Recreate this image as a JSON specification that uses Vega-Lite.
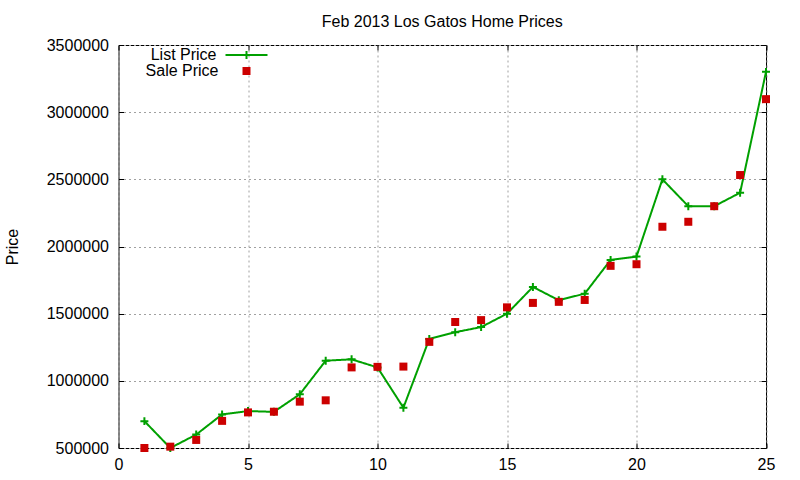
{
  "$schema": "https://vega.github.io/schema/vega-lite/v6.json",
  "autosize": {"type": "none"},
  "padding": {"left": 118.5, "top": 45, "right": 34, "bottom": 32},
  "width": 647.5,
  "height": 403,
  "background": "white",
  "title": {
    "text": "Feb 2013 Los Gatos Home Prices",
    "font": "Liberation Sans",
    "fontSize": 16,
    "fontWeight": "normal",
    "color": "black",
    "offset": 7
  },
  "config": {
    "view": {"stroke": "black", "strokeWidth": 1},
    "axis": {
      "labelFont": "Liberation Sans",
      "labelFontSize": 16,
      "labelColor": "black",
      "labelFlush": false,
      "labelOverlap": false,
      "titleFont": "Liberation Sans",
      "titleFontSize": 16,
      "titleFontWeight": "normal",
      "titleColor": "black",
      "domain": false,
      "tickColor": "black",
      "tickWidth": 1,
      "tickSize": -5,
      "gridColor": "#a0a0a0",
      "gridDash": [2, 3],
      "gridWidth": 1
    },
    "legend": {
      "orient": "none",
      "title": null,
      "labelFont": "Liberation Sans",
      "labelFontSize": 16,
      "labelColor": "black",
      "labelAlign": "right",
      "labelLimit": 0,
      "rowPadding": 0,
      "symbolOpacity": 1
    }
  },
  "data": {
    "values": [
      {"x": 1, "series": "List Price", "price": 700000},
      {"x": 2, "series": "List Price", "price": 500000},
      {"x": 3, "series": "List Price", "price": 600000},
      {"x": 4, "series": "List Price", "price": 750000},
      {"x": 5, "series": "List Price", "price": 775000},
      {"x": 6, "series": "List Price", "price": 769000},
      {"x": 7, "series": "List Price", "price": 900000},
      {"x": 8, "series": "List Price", "price": 1150000},
      {"x": 9, "series": "List Price", "price": 1160000},
      {"x": 10, "series": "List Price", "price": 1100000},
      {"x": 11, "series": "List Price", "price": 800000},
      {"x": 12, "series": "List Price", "price": 1312000},
      {"x": 13, "series": "List Price", "price": 1362000},
      {"x": 14, "series": "List Price", "price": 1400000},
      {"x": 15, "series": "List Price", "price": 1500000},
      {"x": 16, "series": "List Price", "price": 1699000},
      {"x": 17, "series": "List Price", "price": 1600000},
      {"x": 18, "series": "List Price", "price": 1649000},
      {"x": 19, "series": "List Price", "price": 1900000},
      {"x": 20, "series": "List Price", "price": 1925000},
      {"x": 21, "series": "List Price", "price": 2500000},
      {"x": 22, "series": "List Price", "price": 2300000},
      {"x": 23, "series": "List Price", "price": 2300000},
      {"x": 24, "series": "List Price", "price": 2400000},
      {"x": 25, "series": "List Price", "price": 3300000},
      {"x": 1, "series": "Sale Price", "price": 500000},
      {"x": 2, "series": "Sale Price", "price": 510000},
      {"x": 3, "series": "Sale Price", "price": 560000},
      {"x": 4, "series": "Sale Price", "price": 702000},
      {"x": 5, "series": "Sale Price", "price": 765000},
      {"x": 6, "series": "Sale Price", "price": 770000},
      {"x": 7, "series": "Sale Price", "price": 845000},
      {"x": 8, "series": "Sale Price", "price": 855000},
      {"x": 9, "series": "Sale Price", "price": 1100000},
      {"x": 10, "series": "Sale Price", "price": 1104000},
      {"x": 11, "series": "Sale Price", "price": 1106000},
      {"x": 12, "series": "Sale Price", "price": 1290000},
      {"x": 13, "series": "Sale Price", "price": 1438000},
      {"x": 14, "series": "Sale Price", "price": 1452000},
      {"x": 15, "series": "Sale Price", "price": 1547000},
      {"x": 16, "series": "Sale Price", "price": 1580000},
      {"x": 17, "series": "Sale Price", "price": 1588000},
      {"x": 18, "series": "Sale Price", "price": 1602000},
      {"x": 19, "series": "Sale Price", "price": 1856000},
      {"x": 20, "series": "Sale Price", "price": 1868000},
      {"x": 21, "series": "Sale Price", "price": 2147000},
      {"x": 22, "series": "Sale Price", "price": 2184000},
      {"x": 23, "series": "Sale Price", "price": 2300000},
      {"x": 24, "series": "Sale Price", "price": 2532000},
      {"x": 25, "series": "Sale Price", "price": 3097000}
    ]
  },
  "layer": [
    {
      "transform": [{"filter": "datum.series === 'List Price'"}],
      "mark": {"type": "line", "color": "#00a000", "strokeWidth": 2},
      "encoding": {
        "x": {
          "field": "x",
          "type": "quantitative",
          "scale": {"domain": [0, 25], "nice": false, "zero": false},
          "axis": {"values": [0, 5, 10, 15, 20, 25], "title": null, "labelPadding": 13, "grid": true}
        },
        "y": {
          "field": "price",
          "type": "quantitative",
          "scale": {"domain": [500000, 3500000], "nice": false, "zero": false},
          "axis": {
            "values": [500000, 1000000, 1500000, 2000000, 2500000, 3000000, 3500000],
            "format": "d",
            "title": "Price",
            "titlePadding": 26,
            "labelPadding": 15,
            "grid": true
          }
        },
        "strokeDash": {
          "field": "series",
          "type": "nominal",
          "scale": {"domain": ["List Price"], "range": [[1, 0]]},
          "legend": {
            "legendX": 120,
            "legendY": 2,
            "labelOffset": -38,
            "symbolType": "M-7,0H7M0,-1.33V1.33",
            "symbolSize": 36,
            "symbolStrokeColor": "#00a000",
            "symbolStrokeWidth": 2,
            "symbolFillColor": "transparent"
          }
        }
      }
    },
    {
      "transform": [{"filter": "datum.series === 'List Price'"}],
      "mark": {
        "type": "point",
        "filled": false,
        "shape": "M-1.33,0H1.33M0,-1.33V1.33",
        "size": 36,
        "color": "#00a000",
        "strokeWidth": 2,
        "opacity": 1
      },
      "encoding": {
        "x": {
          "field": "x",
          "type": "quantitative",
          "axis": {"orient": "top", "values": [0, 5, 10, 15, 20, 25], "labels": false, "title": null, "grid": false}
        },
        "y": {
          "field": "price",
          "type": "quantitative",
          "axis": {
            "orient": "right",
            "values": [500000, 1000000, 1500000, 2000000, 2500000, 3000000, 3500000],
            "labels": false,
            "title": null,
            "grid": false
          }
        }
      }
    },
    {
      "transform": [{"filter": "datum.series === 'Sale Price'"}],
      "mark": {"type": "point", "filled": true, "shape": "square", "size": 64, "opacity": 1},
      "encoding": {
        "x": {"field": "x", "type": "quantitative", "axis": null},
        "y": {"field": "price", "type": "quantitative", "axis": null},
        "color": {
          "field": "series",
          "type": "nominal",
          "scale": {"domain": ["Sale Price"], "range": ["#cc0000"]},
          "legend": {
            "legendX": 120,
            "legendY": 18,
            "labelOffset": -36,
            "symbolType": "square",
            "symbolSize": 64
          }
        }
      }
    }
  ],
  "resolve": {"axis": {"x": "independent", "y": "independent"}}
}
